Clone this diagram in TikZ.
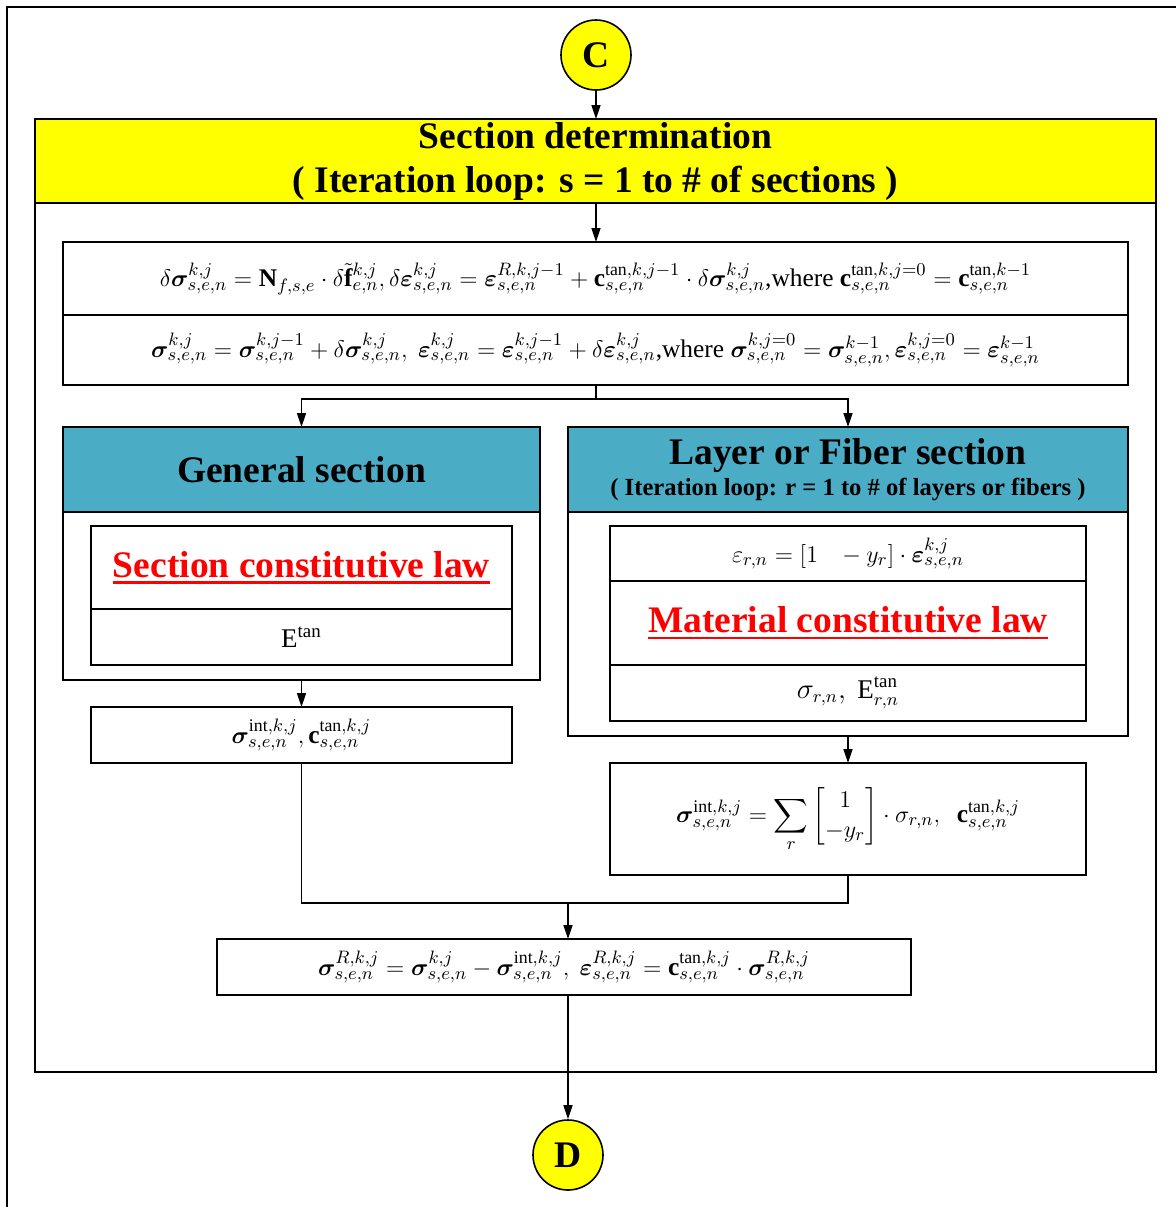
\documentclass[tikz,border=0pt]{standalone}
\usepackage{amsmath}
\usepackage{bm}
\usepackage{fontspec}
\setmainfont{Liberation Serif}
\usetikzlibrary{arrows.meta}

\definecolor{hdryellow}{RGB}{255,255,0}
\definecolor{hdrteal}{RGB}{75,172,198}
\definecolor{lawred}{RGB}{255,0,0}

\newcommand{\bsig}{\bm{\sigma}}
\newcommand{\beps}{\bm{\varepsilon}}
\newcommand{\bfc}{\mathbf{c}}
\newcommand{\sen}{s,e,n}
% heavy underline for the law titles
\newcommand{\lawline}[1]{\setbox0\hbox{#1}\rlap{\rule[-3.2pt]{\wd0}{1.3pt}}\box0}

\tikzset{
  frame/.style={draw=black, line width=0.8pt, inner sep=0pt, outer sep=0pt},
  eqbox/.style={frame, fill=white, font=\fontsize{12.7}{15}\selectfont},
  ttl/.style={font=\bfseries\fontsize{18.75}{22}\selectfont, align=center},
  conn/.style={draw=black, line width=0.8pt},
  arr/.style={conn, -{Triangle[length=7pt,width=4.5pt]}},
  circ/.style={circle, draw=black, line width=0.8pt, fill=hdryellow, minimum size=35pt,
    inner sep=0pt, font=\bfseries\fontsize{18.75}{22}\selectfont},
}

\begin{document}
\begin{tikzpicture}[x=0.5pt, y=-0.5pt]
\useasboundingbox (0,0) rectangle (1176,1207);

% open page frame
\draw[line width=1.1pt] (7,1207) -- (7,7) -- (1176,7);

% entry connector
\node[circ] (C) at (596,55) {C};

% section determination block
\node[frame, minimum width=560.5pt, minimum height=476.5pt] (big) at (595.5,595.5) {};
\node[frame, fill=hdryellow, minimum width=560.5pt, minimum height=42pt, ttl] (hdr) at (595.5,161)
  {Section determination\\( Iteration loop: s = 1 to \# of sections )};

% increments and totals
\node[eqbox, minimum width=532.5pt, minimum height=36.5pt] (eqa) at (595.5,278.5)
  {$\delta\bsig^{k,j}_{\sen} = \mathbf{N}_{f,s,e}\cdot\delta\tilde{\mathbf{f}}^{k,j}_{e,n},
    \delta\beps^{k,j}_{\sen} = \beps^{R,k,j-1}_{\sen} + \bfc^{\mathrm{tan},k,j-1}_{\sen}\cdot\delta\bsig^{k,j}_{\sen}$,where
    $\bfc^{\mathrm{tan},k,j=0}_{\sen} = \bfc^{\mathrm{tan},k-1}_{\sen}$};
\node[eqbox, minimum width=532.5pt, minimum height=35pt] (eqb) at (595.5,350)
  {$\bsig^{k,j}_{\sen} = \bsig^{k,j-1}_{\sen} + \delta\bsig^{k,j}_{\sen},\ 
    \beps^{k,j}_{\sen} = \beps^{k,j-1}_{\sen} + \delta\beps^{k,j}_{\sen}$,where
    $\bsig^{k,j=0}_{\sen} = \bsig^{k-1}_{\sen},\beps^{k,j=0}_{\sen} = \beps^{k-1}_{\sen}$};

% general section
\node[frame, minimum width=238.5pt, minimum height=126.5pt] (gen) at (301.5,553.5) {};
\node[frame, fill=hdrteal, minimum width=238.5pt, minimum height=42.5pt, ttl] (genh) at (301.5,469.5)
  {General section};
\node[frame, minimum width=210.5pt, minimum height=41.5pt, ttl, text=lawred] (secl) at (301.5,567.5)
  {\lawline{Section constitutive law}};
\node[eqbox, minimum width=210.5pt, minimum height=28pt, font=\fontsize{13.5}{15}\selectfont] (etan) at (301.5,637)
  {E$^{\mathrm{tan}}$};
\node[eqbox, minimum width=210.5pt, minimum height=28pt] (sint) at (301.5,735)
  {$\bsig^{\mathrm{int},k,j}_{\sen},\bfc^{\mathrm{tan},k,j}_{\sen}$};

% layer or fiber section
\node[frame, minimum width=280pt, minimum height=154.5pt] (lay) at (848,581.5) {};
\node[frame, fill=hdrteal, minimum width=280pt, minimum height=42.5pt, align=center] (layh) at (848,469.5)
  {{\bfseries\fontsize{18.75}{22}\selectfont Layer or Fiber section}\\[2pt]
   {\bfseries\fontsize{12.3}{14}\selectfont ( Iteration loop: r = 1 to \# of layers or fibers )}};
\node[eqbox, minimum width=238pt, minimum height=27.5pt] (strn) at (848,553.5)
  {$\varepsilon_{r,n} = \left[1\ \ \ -y_r\right]\cdot\beps^{k,j}_{\sen}$};
\node[frame, minimum width=238pt, minimum height=42pt, ttl, text=lawred] (matl) at (848,623)
  {\lawline{Material constitutive law}};
\node[eqbox, minimum width=238pt, minimum height=28pt, font=\fontsize{13.5}{15}\selectfont] (sres) at (848,693)
  {$\sigma_{r,n},\ \mathrm{E}^{\mathrm{tan}}_{r,n}$};
\node[eqbox, minimum width=238pt, minimum height=56pt] (ssum) at (848,819)
  {$\displaystyle\bsig^{\mathrm{int},k,j}_{\sen} = \sum_{r}\begin{bmatrix}1\\-y_r\end{bmatrix}\cdot\sigma_{r,n},\ \ 
    \bfc^{\mathrm{tan},k,j}_{\sen}$};

% residuals
\node[eqbox, minimum width=347pt, minimum height=28pt] (res) at (564,967)
  {$\bsig^{R,k,j}_{\sen} = \bsig^{k,j}_{\sen} - \bsig^{\mathrm{int},k,j}_{\sen},\ 
    \beps^{R,k,j}_{\sen} = \bfc^{\mathrm{tan},k,j}_{\sen}\cdot\bsig^{R,k,j}_{\sen}$};

% exit connector
\node[circ] (D) at (568,1155) {D};

% connectors
\draw[arr] (C.south) -- (C.south |- hdr.north);
\draw[arr] (hdr.south -| C.south) -- (eqa.north -| C.south);
\coordinate (split) at (596,399);
\draw[conn] (eqb.south -| split) -- (split);
\draw[arr] (split) -| (genh.north);
\draw[arr] (split) -| (layh.north);
\draw[arr] (gen.south) -- (sint.north);
\draw[arr] (lay.south) -- (ssum.north);
\coordinate (join) at (568,903);
\draw[conn] (sint.south) |- (join);
\draw[conn] (ssum.south) |- (join);
\draw[arr] (join) -- (join |- res.north);
\draw[arr] (res.south -| join) -- (D.north);
\end{tikzpicture}
\end{document}
